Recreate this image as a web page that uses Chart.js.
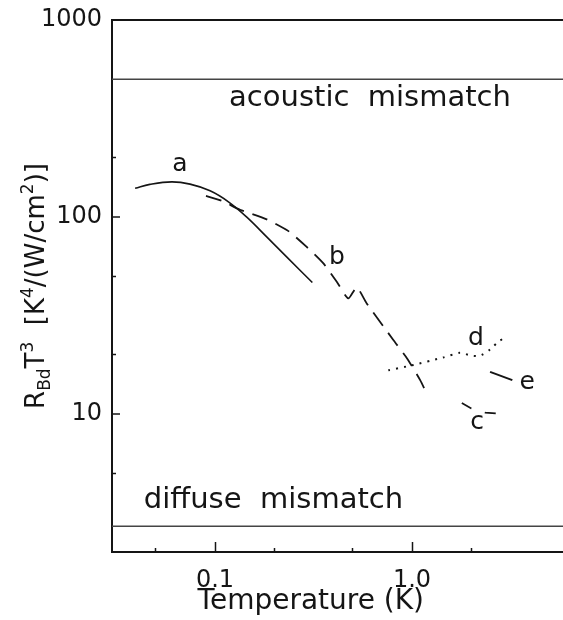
<!DOCTYPE html>
<html>
<head>
<meta charset="utf-8">
<script src="https://cdn.jsdelivr.net/npm/chart.js@4/dist/chart.umd.min.js"></script>
<style>
  html, body { margin: 0; padding: 0; background: #fff; }
  #wrap { width: 563px; height: 620px; }
</style>
</head>
<body>
<div id="wrap"><canvas id="chart"></canvas></div>
<script>
// curve a (solid)
var aTemp = [0.0393, 0.0467, 0.0603, 0.0747, 0.0944, 0.117, 0.145, 0.183, 0.231, 0.312];
var aR = [140, 146.6, 151, 147, 136, 119.6, 100, 79.4, 62.8, 46.6];

// curve b (dashed)
var bTemp = [0.090, 0.108, 0.134, 0.183, 0.236, 0.292, 0.355, 0.415, 0.475, 0.524, 0.589, 0.804, 0.944, 1.10, 1.18];
var bR = [128, 121, 109, 97.4, 84.9, 70.6, 58.2, 47, 38.7, 44, 36.5, 23.8, 19.2, 14.9, 12.9];

// curve c (short dashes)
var cTemp = [1.79, 2.0, 2.35, 2.67];
var cR = [11.4, 10.7, 10.2, 10.1];

// curve d (dotted)
var dTemp = [0.758, 0.997, 1.44, 1.75, 1.97, 2.17, 2.30, 2.49, 2.74, 3.03];
var dR = [16.7, 17.7, 19.4, 20.5, 19.9, 19.7, 20.2, 21.3, 23.3, 24.9];

// curve e (solid segment)
var eTemp = [2.49, 3.23];
var eR = [16.4, 14.9];

// model limits
var acousticR = 500;
var diffuseR = 2.7;

var xMin = 0.03, xMax = 5.84;
var yMin = 2, yMax = 1000;
var xTickVals = [0.1, 1];
var xTickText = ['0.1', '1.0'];
var xMinorVals = [0.05, 0.2, 0.5, 2];
var yTickVals = [10, 100, 1000];
var yTickText = ['10', '100', '1000'];
var yMinorVals = [5, 20, 50, 200];

var noteText = ['a', 'b', 'c', 'd', 'e'];
var noteTemp = [0.0664, 0.416, 2.14, 2.11, 3.84];
var noteR = [184, 62.6, 9.1, 24.3, 14.5];
var bandText = ['acoustic  mismatch', 'diffuse  mismatch'];
var bandTemp = [0.612, 0.198];
var bandR = [402, 3.66];

var FONT = '"DejaVu Sans", sans-serif';
var INK = '#151515';
var NONE = 'rgba(0,0,0,0)';

function has(v, vals) {
    for (var i = 0; i < vals.length; i++) {
        if (Math.abs(v - vals[i]) / vals[i] < 1e-6) return i;
    }
    return -1;
}
function pick(v, vals, text) {
    var i = has(v, vals);
    return i < 0 ? '' : text[i];
}
function pts(xs, ys) {
    return xs.map(function(x, i) { return { x: x, y: ys[i] }; });
}
function tickInk(vals) {
    return function(ctx) { return ctx.tick && has(ctx.tick.value, vals) >= 0 ? INK : NONE; };
}
// fixed box sizes, no extra padding for overflowing labels
function fitBox(w, h) {
    return function(s) {
        if (w !== null) s.width = w;
        if (h !== null) s.height = h;
        s.paddingTop = 0; s.paddingBottom = 0; s.paddingLeft = 0; s.paddingRight = 0;
    };
}

var notesPlugin = {
    id: 'notes',
    afterDatasetsDraw: function(chart) {
        var ctx = chart.ctx, xs = chart.scales.x, ys = chart.scales.y;
        ctx.save();
        ctx.fillStyle = INK;
        ctx.textAlign = 'center';
        ctx.textBaseline = 'middle';
        ctx.font = '25px ' + FONT;
        noteText.forEach(function(t, i) {
            ctx.fillText(t, xs.getPixelForValue(noteTemp[i]), ys.getPixelForValue(noteR[i]));
        });
        ctx.font = '29px ' + FONT;
        bandText.forEach(function(t, i) {
            ctx.fillText(t, xs.getPixelForValue(bandTemp[i]), ys.getPixelForValue(bandR[i]));
        });

        // y axis title with sub/superscripts
        var parts = [['R', 0], ['Bd', 1], ['T', 0], ['3', 2], ['  [K', 0], ['4', 2], ['/(W/cm', 0], ['2', 2], [')]', 0]];
        var big = '26px ' + FONT, small = '17px ' + FONT;
        var total = 0;
        parts.forEach(function(p) { ctx.font = p[1] ? small : big; total += ctx.measureText(p[0]).width; });
        var cy = (chart.chartArea.top + chart.chartArea.bottom) / 2;
        ctx.translate(44, cy);
        ctx.rotate(-Math.PI / 2);
        ctx.textAlign = 'left';
        ctx.textBaseline = 'alphabetic';
        var pos = -total / 2;
        parts.forEach(function(p) {
            ctx.font = p[1] ? small : big;
            var dy = p[1] === 1 ? 6 : (p[1] === 2 ? -11 : 0);
            ctx.fillText(p[0], pos, dy);
            pos += ctx.measureText(p[0]).width;
        });
        ctx.restore();
    }
};

new Chart(document.getElementById('chart'), {
    type: 'scatter',
    data: {
        datasets: [
            { data: pts(aTemp, aR), borderColor: INK, borderWidth: 1.6, tension: 0.4 },
            { data: pts(bTemp, bR), borderColor: INK, borderWidth: 1.8, borderDash: [16, 9], tension: 0.2 },
            { data: pts(cTemp, cR), borderColor: INK, borderWidth: 1.8, borderDash: [11, 14] },
            { data: pts(dTemp, dR), borderColor: INK, borderWidth: 2, borderDash: [2, 6], tension: 0.2 },
            { data: pts(eTemp, eR), borderColor: INK, borderWidth: 2 },
            { data: pts([xMin, xMax], [acousticR, acousticR]), borderColor: '#444', borderWidth: 1.5 },
            { data: pts([xMin, xMax], [diffuseR, diffuseR]), borderColor: '#444', borderWidth: 1.5 }
        ]
    },
    options: {
        responsive: true,
        maintainAspectRatio: false,
        animation: false,
        showLine: true,
        elements: { point: { radius: 0, hoverRadius: 0 } },
        layout: { padding: { top: 20, right: 0, bottom: 0, left: 0 } },
        plugins: { legend: { display: false }, tooltip: { enabled: false } },
        scales: {
            x: {
                type: 'logarithmic', position: 'bottom', weight: 1,
                min: xMin, max: xMax,
                border: { display: true, color: INK, width: 2 },
                grid: { drawOnChartArea: false, tickLength: -10, tickWidth: 1.5, tickColor: tickInk(xTickVals), color: NONE },
                ticks: {
                    autoSkip: false, maxRotation: 0, padding: 24, color: INK,
                    font: { family: FONT, size: 24 },
                    callback: function(v) { return pick(v, xTickVals, xTickText); }
                },
                title: {
                    display: true, text: 'Temperature (K)      ', color: INK,
                    font: { family: FONT, size: 28 }, padding: { top: 0, bottom: 1 }
                },
                afterFit: fitBox(null, 68)
            },
            xMinor: {
                type: 'logarithmic', position: 'bottom', weight: 0,
                min: xMin, max: xMax,
                border: { display: true, color: INK, width: 2 },
                grid: { drawOnChartArea: false, tickLength: -4, tickWidth: 1.5, tickColor: tickInk(xMinorVals), color: NONE },
                ticks: { display: false, autoSkip: false },
                afterFit: fitBox(null, 0)
            },
            y: {
                type: 'logarithmic', position: 'left', weight: 1,
                min: yMin, max: yMax,
                border: { display: true, color: INK, width: 2 },
                grid: {
                    drawOnChartArea: true, tickLength: -8, tickWidth: 1.5, tickColor: tickInk(yTickVals), lineWidth: 2,
                    color: function(ctx) { return ctx.tick && Math.abs(ctx.tick.value - yMax) < 1e-6 ? INK : NONE; }
                },
                ticks: {
                    autoSkip: false, padding: 18, color: INK,
                    font: { family: FONT, size: 24 },
                    callback: function(v) { return pick(v, yTickVals, yTickText); }
                },
                afterFit: fitBox(112, null)
            },
            yMinor: {
                type: 'logarithmic', position: 'left', weight: 0,
                min: yMin, max: yMax,
                border: { display: true, color: INK, width: 2 },
                grid: { drawOnChartArea: false, tickLength: -4, tickWidth: 1.5, tickColor: tickInk(yMinorVals), color: NONE },
                ticks: { display: false, autoSkip: false },
                afterFit: fitBox(0, null)
            }
        }
    },
    plugins: [notesPlugin]
});
</script>
</body>
</html>
